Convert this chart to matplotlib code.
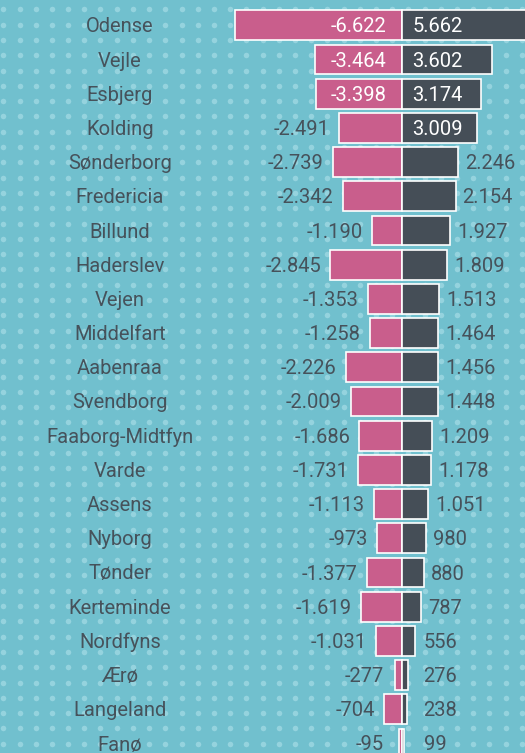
import matplotlib
matplotlib.use("Agg")
import matplotlib.pyplot as plt
import numpy as np

names = ["Odense", "Vejle", "Esbjerg", "Kolding", "Sønderborg", "Fredericia", "Billund",
         "Haderslev", "Vejen", "Middelfart", "Aabenraa", "Svendborg", "Faaborg-Midtfyn",
         "Varde", "Assens", "Nyborg", "Tønder", "Kerteminde", "Nordfyns", "Ærø",
         "Langeland", "Fanø"]
neg = [-6622, -3464, -3398, -2491, -2739, -2342, -1190, -2845, -1353, -1258, -2226,
       -2009, -1686, -1731, -1113, -973, -1377, -1619, -1031, -277, -704, -95]
pos = [5662, 3602, 3174, 3009, 2246, 2154, 1927, 1809, 1513, 1464, 1456, 1448, 1209,
       1178, 1051, 980, 880, 787, 556, 276, 238, 99]

FONT = "Roboto"

BG = "#71c0ce"
DOT = "#95d3de"
PINK = "#c95e8c"
DARK = "#454e57"
TXT = "#46525b"

W, H = 525, 753
fig = plt.figure(figsize=(W / 100, H / 100), dpi=100)
fig.patch.set_facecolor(BG)

# dotted background
bg = fig.add_axes([0, 0, 1, 1], zorder=0)
bg.set_xlim(0, W)
bg.set_ylim(H, 0)
bg.axis("off")
gx, gy = np.meshgrid(np.arange(3.3, W + 10, 16.2), np.arange(9.3, H + 10, 15.3))
bg.scatter(gx.ravel(), gy.ravel(), s=16, color=DOT, linewidths=0)

ax = fig.add_axes([0, 0, 1, 1], zorder=1)
ax.patch.set_alpha(0)
center_px = 401.5
scale = 0.0251  # px per unit
xmin = -center_px / scale
xmax = (W - center_px) / scale
ax.set_xlim(xmin, xmax)
row0, rstep = 25.3, 34.2
ax.set_ylim((H - row0) / rstep, -row0 / rstep)
ax.axis("off")

u = 1 / scale  # data units per pixel
dy = 1.5 / rstep  # small downward nudge for text
y = np.arange(len(names))
ax.barh(y, neg, height=0.875, color=PINK, edgecolor="white", linewidth=1.2, zorder=2)
ax.barh(y, pos, height=0.875, color=DARK, edgecolor="white", linewidth=1.2, zorder=3)

fs = 14.5
kw = dict(va="center", fontsize=fs, family=FONT, zorder=5)
for i, (n, a, b) in enumerate(zip(names, neg, pos)):
    ty = i + dy
    ax.text(120 / W, ty, n, transform=ax.get_yaxis_transform(), ha="center",
            color=TXT, **kw)
    la = f"{a:,}".replace(",", ".")
    lb = f"{b:,}".replace(",", ".")
    if abs(a) >= 3000:
        ax.text(-15 * u, ty, la, ha="right", color="white", **kw)
    else:
        ax.text(min(a - 9 * u, -18 * u), ty, la, ha="right", color=TXT, **kw)
    if abs(b) >= 3000:
        ax.text(11 * u, ty, lb, ha="left", color="white", **kw)
    else:
        ax.text(max(b + 7 * u, 22 * u), ty, lb, ha="left", color=TXT, **kw)

fig.savefig("out.png", dpi=100, facecolor=BG)
